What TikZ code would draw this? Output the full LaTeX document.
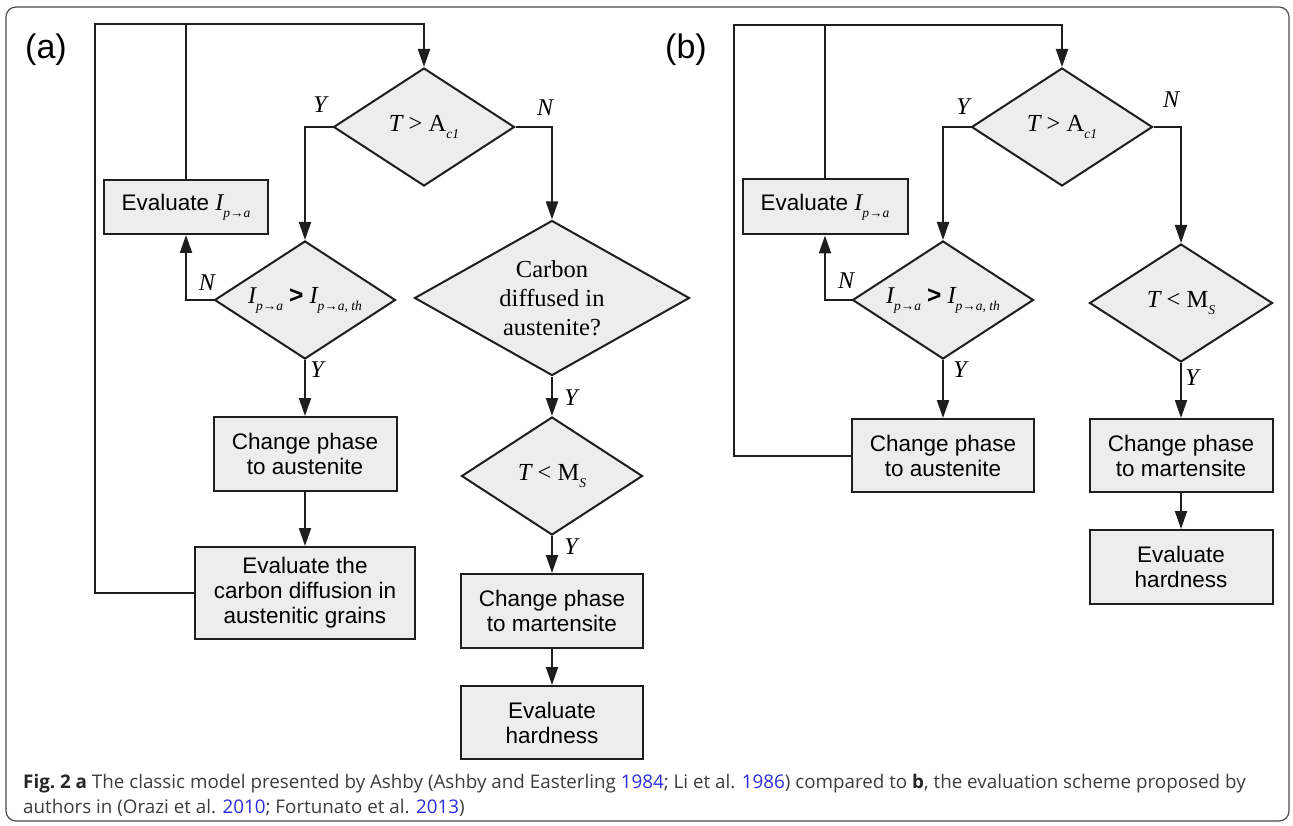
\documentclass[tikz,border=0pt]{standalone}
\usepackage{fontspec}
\setmainfont{Liberation Serif}
\setsansfont{Liberation Sans}
\newfontfamily\captionfont{Open Sans}
\usetikzlibrary{positioning,shapes.geometric,arrows.meta}

\definecolor{boxgray}{HTML}{ECEDED}
\definecolor{linegray}{HTML}{1E1E1E}
\definecolor{framegray}{HTML}{4A4A4A}
\definecolor{captiongray}{HTML}{3C3C3C}
\definecolor{citeblue}{HTML}{2B2BD9}

\newcommand{\lowsub}[1]{\raisebox{-7pt}{\rmfamily\itshape\fontsize{13.5}{13.5}\selectfont #1}}
\newcommand{\Ipa}{{\rmfamily\itshape\fontsize{24}{24}\selectfont I}\lowsub{p→a}}

\begin{document}
\begin{tikzpicture}[x=1pt, y=-1pt,
                    boxnode/.style={rectangle, draw=linegray, fill=boxgray, line width=2pt, font=\sffamily\fontsize{22.5}{25}\selectfont, align=center, inner sep=0pt},
                    diamondnode/.style={diamond, draw=linegray, fill=boxgray, line width=2pt, font=\fontsize{24.5}{29}\selectfont, align=center, inner sep=-30pt, minimum width=181pt, minimum height=118pt},
                    yesno/.style={font=\itshape\fontsize{24}{24}\selectfont, inner sep=0pt},
                    flowline/.style={draw=linegray, line width=2pt},
                    flowarrow/.style={flowline, -{Triangle[length=18pt, width=12pt]}}
                ]
                    \useasboundingbox (0,0) rectangle (1293,826);
                    \draw[draw=framegray, line width=1.2pt, rounded corners=10pt] (6,7) rectangle (1289,821);

                    % (a) classic model
                    \node[font=\sffamily\fontsize{34}{34}\selectfont] (taga) at (46,50) {(a)};
                    \node[diamondnode] (tca) at (424,127) {{\itshape T} > A\lowsub{c1}};
                    \node[diamondnode] (ipa) at (305,300) {\Ipa\ \textsf{\textbf{>}}\ {\itshape I}\lowsub{p→a, th}};
                    \node[diamondnode, minimum width=275pt, minimum height=155pt] (cda) at (552,298) {Carbon\\diffused in\\austenite?};
                    \node[diamondnode] (msa) at (552,476) {{\itshape T} < M\lowsub{S}};
                    \node[boxnode, minimum width=164pt, minimum height=54pt] (eva) at (186,207) {Evaluate \Ipa};
                    \node[boxnode, minimum width=183pt, minimum height=74pt] (aua) [below=56pt of ipa] {Change phase\\to austenite};
                    \node[boxnode, minimum width=220pt, minimum height=92pt] (cga) [below=54pt of aua] {Evaluate the\\carbon diffusion in\\austenitic grains};
                    \node[boxnode, minimum width=182pt, minimum height=74pt] (maa) [below=37pt of msa] {Change phase\\to martensite};
                    \node[boxnode, minimum width=182pt, minimum height=73pt] (hda) [below=36pt of maa] {Evaluate\\hardness};
                    \coordinate (outa) at (95,24);
                    \coordinate (topa) at (424,24);

                    \draw[flowarrow] (cga.west) -| (outa) -- (topa) -- (tca.north);
                    \draw[flowline] (eva.north) -- (eva.north |- topa);
                    \draw[flowarrow] (tca.west) -| (ipa.north);
                    \draw[flowarrow] (tca.east) -| (cda.north);
                    \draw[flowarrow] (ipa.west) -| (eva.south);
                    \draw[flowarrow] (ipa.south) -- (aua.north);
                    \draw[flowarrow] (aua.south) -- (cga.north);
                    \draw[flowarrow] (cda.south) -- (msa.north);
                    \draw[flowarrow] (msa.south) -- (maa.north);
                    \draw[flowarrow] (maa.south) -- (hda.north);

                    \node[yesno] (ya1) at (320,105) {Y};
                    \node[yesno] (na1) at (545,108) {N};
                    \node[yesno] (na2) at (207,283) {N};
                    \node[yesno] (ya2) at (317,370) {Y};
                    \node[yesno] (ya3) at (571,398) {Y};
                    \node[yesno] (ya4) at (571,547) {Y};

                    % (b) proposed scheme
                    \node[font=\sffamily\fontsize{34}{34}\selectfont] (tagb) at (686,50) {(b)};
                    \node[diamondnode] (tcb) at (1062,127) {{\itshape T} > A\lowsub{c1}};
                    \node[diamondnode] (ipb) at (943,300) {\Ipa\ \textsf{\textbf{>}}\ {\itshape I}\lowsub{p→a, th}};
                    \node[diamondnode, minimum width=183pt] (msb) at (1181,303) {{\itshape T} < M\lowsub{S}};
                    \node[boxnode, minimum width=165pt, minimum height=55pt] (evb) at (825,207) {Evaluate \Ipa};
                    \node[boxnode, minimum width=182pt, minimum height=73pt] (aub) [below=58pt of ipb] {Change phase\\to austenite};
                    \node[boxnode, minimum width=183pt, minimum height=73pt] (mab) [below=55pt of msb] {Change phase\\to martensite};
                    \node[boxnode, minimum width=183pt, minimum height=74pt] (hdb) [below=36pt of mab] {Evaluate\\hardness};
                    \coordinate (outb) at (734,25);
                    \coordinate (topb) at (1062,25);

                    \draw[flowarrow] (aub.west) -| (outb) -- (topb) -- (tcb.north);
                    \draw[flowline] (evb.north) -- (evb.north |- topb);
                    \draw[flowarrow] (tcb.west) -| (ipb.north);
                    \draw[flowarrow] (tcb.east) -| (msb.north);
                    \draw[flowarrow] (ipb.west) -| (evb.south);
                    \draw[flowarrow] (ipb.south) -- (aub.north);
                    \draw[flowarrow] (msb.south) -- (mab.north);
                    \draw[flowarrow] (mab.south) -- (hdb.north);

                    \node[yesno] (yb1) at (963,107) {Y};
                    \node[yesno] (nb1) at (1171,100) {N};
                    \node[yesno] (nb2) at (846,281) {N};
                    \node[yesno] (yb2) at (960,370) {Y};
                    \node[yesno] (yb3) at (1192,378) {Y};

                    % caption
                    \node[anchor=west, inner sep=0pt, align=left, text=captiongray, font=\captionfont\fontsize{18.8}{25}\selectfont] (capt) at (23,795.5) {{\bfseries\color{black!85}Fig.~2 a} The classic model presented by Ashby (Ashby and Easterling \textcolor{citeblue}{1984}; Li et al. \textcolor{citeblue}{1986}) compared to {\bfseries\color{black!85}b}, the evaluation scheme proposed by\\authors in (Orazi et al. \textcolor{citeblue}{2010}; Fortunato et al. \textcolor{citeblue}{2013})};
                \end{tikzpicture}
\end{document}
